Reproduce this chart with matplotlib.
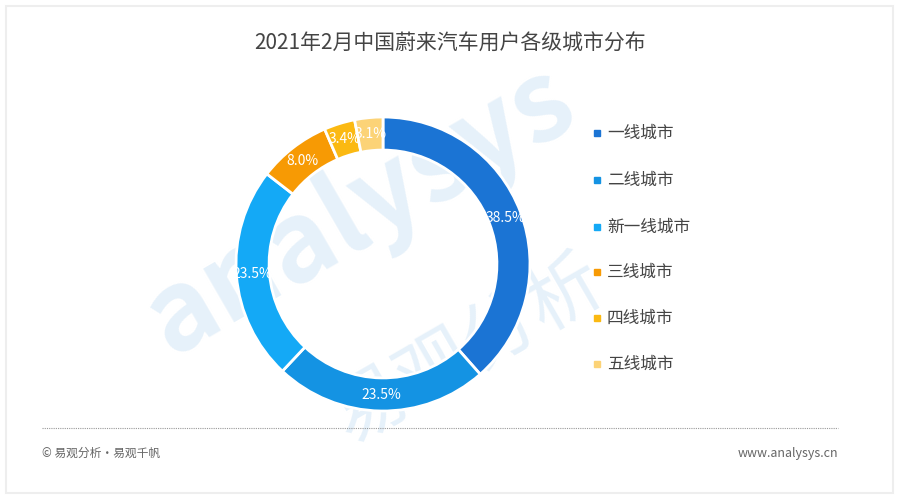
import matplotlib; matplotlib.use("Agg")
import matplotlib.pyplot as plt
from matplotlib.patches import Rectangle
import numpy as np

plt.rcParams['font.family'] = ['Noto Sans CJK SC', 'DejaVu Sans']

TITLE = "2021年2月中国蔚来汽车用户各级城市分布"
cities = ["一线城市", "二线城市", "新一线城市", "三线城市", "四线城市", "五线城市"]
share = [38.5, 23.5, 23.5, 8.0, 3.4, 3.1]
colors = ["#1b74d4", "#1493e3", "#14a9f6", "#f79a04", "#fbb912", "#fcd377"]
INK = "#444444"; MUT = "#666666"

fig = plt.figure(figsize=(9, 5), dpi=100)
fig.patch.set_facecolor("white")
# faint frame around the card
fig.add_artist(Rectangle((6/900, 7/500), 887/900, 487/500, transform=fig.transFigure,
                         fill=False, edgecolor="#eeeeee", lw=1.5))

# watermark, kept behind the chart
fig.text(0.40, 0.58, "analysys", fontsize=80, color="#e6f1fa", rotation=30,
         ha="center", va="center", fontweight="bold", zorder=-5)
fig.text(0.52, 0.30, "易观分析", fontsize=54, color="#e6f1fa", rotation=30,
         ha="center", va="center", zorder=-5)

R = 147
cx, cy = 383, 236  # pixel coords (y from bottom)
ax = fig.add_axes([(cx - R) / 900, (cy - R) / 500, 2 * R / 900, 2 * R / 500])
ax.patch.set_alpha(0)
wedges, _ = ax.pie(share, colors=colors, startangle=90, counterclock=False,
                   radius=1.0, wedgeprops=dict(width=0.225, edgecolor="white", linewidth=2))
cum = 0
for v, w in zip(share, wedges):
    mid = 90 - (cum + v / 2) * 3.6
    cum += v
    r = 0.89
    ax.text(r * np.cos(np.radians(mid)), r * np.sin(np.radians(mid)), f"{v:.1f}%",
            ha="center", va="center", color="white", fontsize=10)
ax.set_aspect("equal")
ax.set_xlim(-1, 1); ax.set_ylim(-1, 1)
ax.axis("off")

fig.text(0.5, 0.913, TITLE, ha="center", va="center", fontsize=15, color=INK,
         fontweight="medium")

# legend
ys = [133, 180, 227, 272, 318, 364]
for lab, col, y in zip(cities, colors, ys):
    fig.add_artist(Rectangle((594/900, 1 - (y + 3) / 500), 6/900, 6/500,
                             transform=fig.transFigure, color=col))
    fig.text(607/900, 1 - y / 500, lab, ha="left", va="center", fontsize=12, color=INK)

# footer
fig.add_artist(plt.Line2D([42/900, 838/900], [1 - 428/500] * 2, transform=fig.transFigure,
                          color="#999999", lw=0.8, ls=(0, (1, 1))))
fig.text(42/900, 1 - 453/500, "© 易观分析·易观千帆", ha="left", va="center",
         fontsize=8.5, color=MUT)
fig.text(838/900, 1 - 454/500, "www.analysys.cn", ha="right", va="center",
         fontsize=9, color=MUT)

fig.savefig("out.png", dpi=100, facecolor="white")
